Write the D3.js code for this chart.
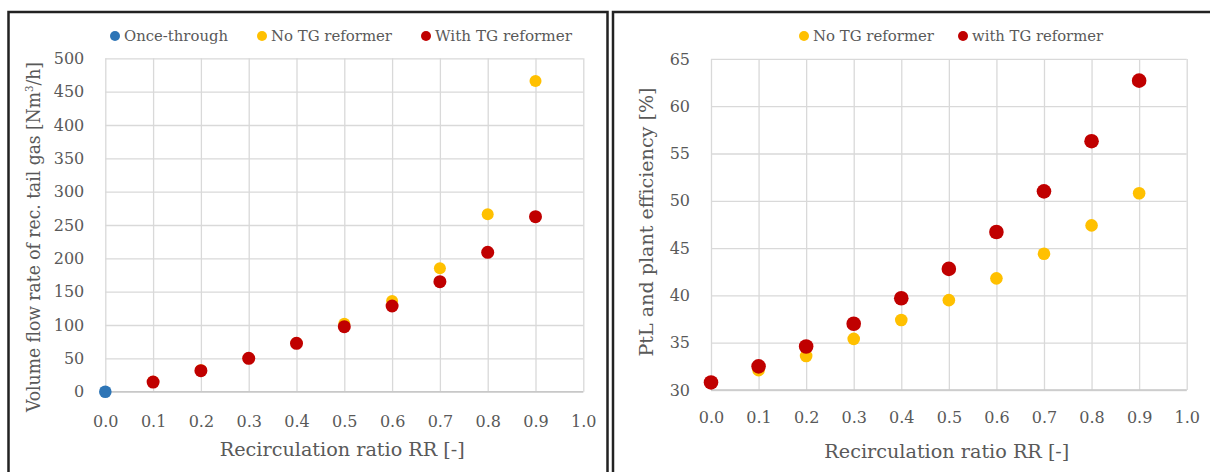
<!DOCTYPE html>
<html>
<head>
<meta charset="utf-8">
<script src="https://d3js.org/d3.v7.min.js"></script>
<style>
  * { margin: 0; padding: 0; }
  body { background: #fff; }
  svg { display: block; font-family: 'DejaVu Serif', serif; }
  text { fill: #595959; }
</style>
</head>
<body>
<svg id="viz"></svg>
<script>
// recirculation ratio values
const rrAll = [0, 0.1, 0.2, 0.3, 0.4, 0.5, 0.6, 0.7, 0.8, 0.9];
const rrRec = [0.1, 0.2, 0.3, 0.4, 0.5, 0.6, 0.7, 0.8, 0.9];

// left chart: volume flow of recirculated tail gas [Nm3/h]
const onceRR = [0];
const onceFlow = [0];
const flowNoTG = [15, 32, 50, 73, 102, 136, 185, 266, 466];
const flowWithTG = [14.5, 31.5, 50, 72.5, 97.5, 128.5, 165, 209, 262.5];

// right chart: PtL and plant efficiency [%]
const effNoTG = [30.8, 32.1, 33.6, 35.4, 37.4, 39.5, 41.8, 44.4, 47.4, 50.8];
const effWithTG = [30.8, 32.5, 34.6, 37.0, 39.7, 42.8, 46.7, 51.0, 56.3, 62.7];

const xTicks = [0, 0.1, 0.2, 0.3, 0.4, 0.5, 0.6, 0.7, 0.8, 0.9, 1.0];
const flowTicks = [0, 50, 100, 150, 200, 250, 300, 350, 400, 450, 500];
const effTicks = [30, 35, 40, 45, 50, 55, 60, 65];

const blue = "#2e75b6", yellow = "#ffc000", red = "#c00000";
const grey = "#595959", grid = "#d9d9d9";

let svg = d3.select("#viz").attr("width", 1210).attr("height", 472);

// panel frames
svg.append("rect").attr("x", 8.5).attr("y", 12).attr("width", 599).attr("height", 480)
  .attr("fill", "#fff").attr("stroke", "#222").attr("stroke-width", 2.5);
svg.append("rect").attr("x", 613).attr("y", 12).attr("width", 620).attr("height", 480)
  .attr("fill", "#fff").attr("stroke", "#222").attr("stroke-width", 2.5);

function styleAxis(a) {
  a.attr("font-family", null).attr("font-size", 16);
  a.select(".domain").remove();
  a.selectAll("line").attr("stroke", grid).attr("stroke-width", 1.3);
  a.selectAll("text").attr("fill", grey);
}

function panel(opt) {
  let g = svg.append("g");
  let x = d3.scaleLinear().domain([0, 1]).range(opt.xr);
  let y = d3.scaleLinear().domain(opt.yd).range(opt.yr);

  // y gridlines + labels
  g.append("g").attr("transform", `translate(${opt.xr[0]},0)`)
    .call(d3.axisLeft(y).tickValues(opt.yTicks).tickSize(-(opt.xr[1] - opt.xr[0])).tickPadding(21))
    .call(styleAxis);

  // x gridlines + labels
  g.append("g").attr("transform", `translate(0,${opt.yr[0]})`)
    .call(d3.axisBottom(x).tickValues(xTicks).tickFormat(d3.format(".1f"))
      .tickSize(-(opt.yr[0] - opt.yr[1])).tickPadding(opt.xPad))
    .call(styleAxis);

  // bottom axis line
  g.append("line").attr("x1", opt.xr[0]).attr("x2", opt.xr[1])
    .attr("y1", opt.yr[0]).attr("y2", opt.yr[0]).attr("stroke", "#c8c8c8").attr("stroke-width", 1.5);

  // series
  opt.series.forEach(s => {
    g.append("g").selectAll("circle")
      .data(s.ys.map((v, i) => [s.xs[i], v]))
      .enter().append("circle")
      .attr("cx", d => x(d[0]))
      .attr("cy", d => y(d[1]))
      .attr("r", s.r)
      .attr("fill", s.color);
  });

  // axis titles
  g.append("text").attr("x", (opt.xr[0] + opt.xr[1]) / 2 - 2).attr("y", opt.xTitleY)
    .attr("text-anchor", "middle").attr("font-size", 19)
    .attr("textLength", opt.xTitleLen).attr("lengthAdjust", "spacingAndGlyphs")
    .text("Recirculation  ratio RR [-]");
  g.append("text")
    .attr("transform", `translate(${opt.yTitleX},${opt.yTitleMid}) rotate(-90)`)
    .attr("text-anchor", "middle").attr("font-size", 18.5)
    .attr("textLength", opt.yTitleLen).attr("lengthAdjust", "spacingAndGlyphs")
    .call(t => opt.yTitle(t));

  // legend
  opt.legend.forEach(l => {
    g.append("circle").attr("cx", l.x).attr("cy", 36).attr("r", 5).attr("fill", l.color);
    g.append("text").attr("x", l.x + 9).attr("y", 41).attr("font-size", 15)
      .attr("textLength", l.len).attr("lengthAdjust", "spacingAndGlyphs").text(l.label);
  });
}

panel({
  xr: [105.3, 583.3], yd: [0, 500], yr: [391.7, 58.3], yTicks: flowTicks, xPad: 24,
  xTitleY: 456, xTitleLen: 245,
  yTitleX: 40, yTitleMid: 237, yTitleLen: 350,
  yTitle: t => {
    t.append("tspan").text("Volume flow rate of rec. tail gas [Nm");
    t.append("tspan").attr("dy", -7).attr("font-size", 11).text("3");
    t.append("tspan").attr("dy", 7).text("/h]");
  },
  series: [
    { xs: onceRR, ys: onceFlow, color: blue, r: 6.3 },
    { xs: rrRec, ys: flowNoTG, color: yellow, r: 6 },
    { xs: rrRec, ys: flowWithTG, color: red, r: 6.5 }
  ],
  legend: [
    { x: 115, color: blue, label: "Once-through", len: 104 },
    { x: 262, color: yellow, label: "No TG reformer", len: 121 },
    { x: 426, color: red, label: "With TG reformer", len: 137 }
  ]
});

panel({
  xr: [711, 1186.7], yd: [30, 65], yr: [390, 58.9], yTicks: effTicks, xPad: 22,
  xTitleY: 458, xTitleLen: 245,
  yTitleX: 653, yTitleMid: 222, yTitleLen: 269,
  yTitle: t => t.text("PtL and plant efficiency [%]"),
  series: [
    { xs: rrAll, ys: effNoTG, color: yellow, r: 6.3 },
    { xs: rrAll, ys: effWithTG, color: red, r: 7.3 }
  ],
  legend: [
    { x: 804, color: yellow, label: "No TG reformer", len: 121 },
    { x: 963, color: red, label: "with TG reformer", len: 131 }
  ]
});
</script>
</body>
</html>
